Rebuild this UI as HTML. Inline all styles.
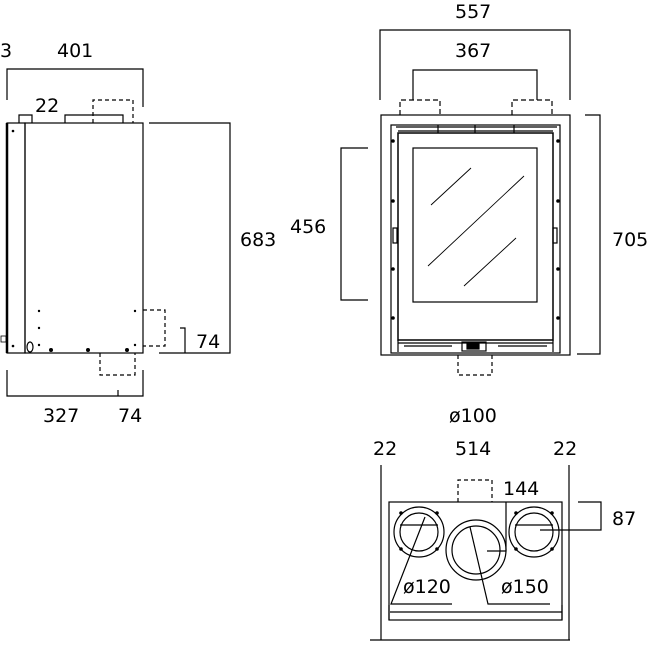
<!DOCTYPE html>
<html><head><meta charset="utf-8"><style>body{margin:0;background:#fff}svg{display:block}text{font-family:"DejaVu Sans","Liberation Sans",sans-serif;font-size:19px;fill:#000}</style></head><body>
<svg width="650" height="650" viewBox="0 0 650 650" fill="none" stroke="#000" stroke-width="1.2">
<!-- SIDE VIEW -->
<text x="0" y="57" stroke="none">3</text>
<text x="57" y="57" stroke="none">401</text>
<path d="M7 100V69H143V107"/>
<text x="35" y="112" stroke="none">22</text>
<path d="M19 123V115H32V123M65 123V115H123V123"/>
<path d="M93 123V100H133V123" stroke-dasharray="4,3"/>
<rect x="7" y="123" width="18" height="230"/>
<path d="M7 123V353" stroke-width="2.5"/>
<rect x="25" y="123" width="118" height="230"/>
<g fill="#000" stroke="none"><circle cx="13" cy="131" r="1.3"/><circle cx="13" cy="346" r="1.3"/><circle cx="39" cy="311" r="1.2"/><circle cx="39" cy="328" r="1.2"/><circle cx="39" cy="345" r="1.2"/><circle cx="135" cy="311" r="1.2"/><circle cx="135" cy="345" r="1.2"/><circle cx="51" cy="350" r="2"/><circle cx="88" cy="350" r="2"/><circle cx="127" cy="350" r="2"/></g>
<ellipse cx="30" cy="347" rx="3" ry="5"/>
<rect x="1" y="336" width="5" height="6" stroke-width="0.8"/>
<path d="M143 310H165V346H143" stroke-dasharray="4,3"/>
<path d="M100 353V375H135V353" stroke-dasharray="4,3"/>
<path d="M149 123H230V353H159M180 328H185V353"/>
<text x="240" y="246" stroke="none">683</text>
<text x="196" y="348" stroke="none">74</text>
<path d="M7 370V396H143V370M118 396V390"/>
<text x="43" y="422" stroke="none">327</text>
<text x="118" y="422" stroke="none">74</text>
<!-- FRONT VIEW -->
<text x="455" y="18" stroke="none">557</text>
<path d="M380 100V30H570V100"/>
<text x="455" y="57" stroke="none">367</text>
<path d="M413 100V70H537V100"/>
<path d="M400 115V100H440V115M512 115V100H552V115" stroke-dasharray="5,3"/>
<rect x="381" y="115" width="189" height="240"/>
<rect x="391" y="125" width="169" height="228"/>
<path d="M396 127H557M398 131H553M438 125V133M475 125V133M514 125V133"/>
<rect x="398" y="133" width="155" height="207" stroke-width="1.5"/>
<rect x="413" y="148" width="124" height="154"/>
<path d="M431 205L471 168M428 266L524 176M464 286L516 238" stroke-width="0.9"/>
<path d="M398 340V352M553 340V352M398 343H553M404 346H452M498 346H547"/>
<rect x="462" y="342" width="24" height="9"/><rect x="467" y="344" width="12" height="5" fill="#000"/>
<g fill="#000" stroke="none"><circle cx="393" cy="141" r="1.8"/><circle cx="393" cy="201" r="1.8"/><circle cx="393" cy="269" r="1.8"/><circle cx="393" cy="318" r="1.8"/><circle cx="558" cy="141" r="1.8"/><circle cx="558" cy="201" r="1.8"/><circle cx="558" cy="269" r="1.8"/><circle cx="558" cy="318" r="1.8"/></g>
<rect x="393" y="228" width="4" height="15"/><rect x="553" y="228" width="4" height="15"/>
<path d="M458 355V375H492V355" stroke-dasharray="4,3"/>
<text x="449" y="422" stroke="none">ø100</text>
<path d="M368 148H341V300H368"/>
<text x="290" y="233" stroke="none">456</text>
<path d="M585 115H600V354H577"/>
<text x="612" y="246" stroke="none">705</text>
<!-- BOTTOM VIEW -->
<text x="373" y="455" stroke="none">22</text>
<text x="455" y="455" stroke="none">514</text>
<text x="553" y="455" stroke="none">22</text>
<path d="M381 465V640M569 465V640M370 640H570"/>
<path d="M458 502V480H492V502" stroke-dasharray="4,3"/>
<rect x="389" y="502" width="173" height="118"/>
<path d="M389 620V605M562 620V605M390 612H562"/>
<circle cx="419" cy="532" r="25"/><circle cx="419" cy="532" r="19"/>
<circle cx="534" cy="532" r="25"/><circle cx="534" cy="532" r="19"/>
<circle cx="476" cy="550" r="30"/><circle cx="476" cy="550" r="24"/>
<g fill="#000" stroke="none"><circle cx="401" cy="513" r="1.8"/><circle cx="437" cy="513" r="1.8"/><circle cx="401" cy="549" r="1.8"/><circle cx="437" cy="549" r="1.8"/><circle cx="516" cy="513" r="1.8"/><circle cx="552" cy="513" r="1.8"/><circle cx="516" cy="549" r="1.8"/><circle cx="552" cy="549" r="1.8"/></g>
<path d="M400 525H438M515 525H553"/>
<text x="503" y="495" stroke="none">144</text>
<path d="M506 502V551H487"/>
<path d="M578 502H601V530H578M601 530H540"/>
<text x="612" y="525" stroke="none">87</text>
<path d="M425 517L391 604H452"/>
<path d="M470 527L488 604H550"/>
<text x="403" y="593" stroke="none">ø120</text>
<text x="501" y="593" stroke="none">ø150</text>
</svg>
</body></html>
